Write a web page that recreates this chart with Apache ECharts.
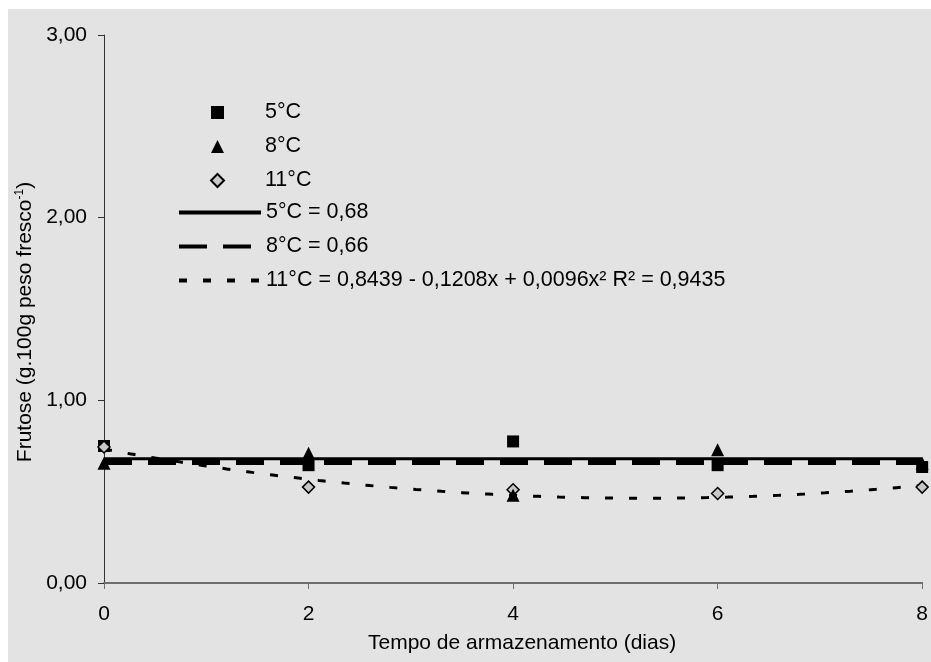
<!DOCTYPE html>
<html>
<head>
<meta charset="utf-8">
<script src="https://cdn.jsdelivr.net/npm/echarts@6/dist/echarts.min.js"></script>
<style>
  html, body { margin: 0; padding: 0; background: #ffffff; }
  #chart { width: 931px; height: 662px; }
</style>
</head>
<body>
<div id="chart"></div>
<script>
// Storage time (days) and fructose content (g.100g fresh weight^-1)
const days = [0, 2, 4, 6, 8];
const frut5 = [0.75, 0.645, 0.775, 0.645, 0.635];
const frut8 = [0.655, 0.71, 0.48, 0.73, 0.655];
const frut11 = [0.745, 0.525, 0.51, 0.49, 0.525];

// Fitted models
const mean5 = 0.68;
const mean8 = 0.66;
const fit11 = [0.8439, -0.1208, 0.0096]; // c0 + c1*x + c2*x^2

const yTicks = [0, 1, 2, 3];

const names = {
  s5: '5°C', s8: '8°C', s11: '11°C',
  l5: '5°C = 0,68',
  l8: '8°C = 0,66',
  l11: '11°C = 0,8439 - 0,1208x + 0,0096x² R² = 0,9435'
};

const FONT = 'Liberation Sans, Arial, sans-serif';

function pairs(xs, ys) { return xs.map((x, i) => [x, ys[i]]); }

// Excel-style trendline: x is the 1-based position of the point (day 0 -> x = 1)
function quadCurve(coef, xs) {
  const out = [];
  const x0 = xs[0], x1 = xs[xs.length - 1];
  for (let d = x0; d <= x1 + 1e-9; d += 0.05) {
    const x = d + 1;
    out.push([d, coef[0] + coef[1] * x + coef[2] * x * x]);
  }
  return out;
}

const chart = echarts.init(document.getElementById('chart'), null, { renderer: 'canvas' });

const option = {
  animation: false,
  backgroundColor: '#ffffff',
  textStyle: { fontFamily: FONT },
  graphic: [{
    type: 'rect', z: -10, silent: true,
    shape: { x: 8, y: 9, width: 923, height: 653 },
    style: { fill: '#e3e3e3' }
  }],
  grid: { left: 104, right: 3, top: 35, bottom: 79, containLabel: false },
  legend: [{
    data: [names.s5, names.s8, names.s11],
    orient: 'vertical',
    left: 210, top: 101.5, padding: 0,
    itemWidth: 13, itemHeight: 13, itemGap: 12,
    textStyle: { fontFamily: FONT, fontSize: 21.5, color: '#000', lineHeight: 21, padding: [0, 0, 0, 36] },
    selectedMode: false
  }, {
    data: [names.l5, names.l8, names.l11],
    orient: 'vertical',
    left: 177, top: 201.5, padding: 0,
    itemWidth: 82, itemHeight: 10, itemGap: 12,
    itemStyle: { opacity: 0 },
    lineStyle: { width: 4 },
    textStyle: { fontFamily: FONT, fontSize: 21.5, color: '#000', lineHeight: 21 },
    selectedMode: false
  }],
  xAxis: {
    type: 'value', min: 0, max: 8, interval: 2,
    name: 'Tempo de armazenamento (dias)',
    nameLocation: 'middle', nameGap: 50,
    nameTextStyle: { fontFamily: FONT, fontSize: 21, color: '#000', padding: [0, 0, 0, 18] },
    axisLine: { lineStyle: { color: '#6e6e6e', width: 2 } },
    axisTick: { show: true, length: 6, lineStyle: { color: '#6e6e6e', width: 1 } },
    axisLabel: { fontFamily: FONT, fontSize: 21, color: '#000', margin: 21,
      formatter: v => String(v) },
    splitLine: { show: false }
  },
  yAxis: {
    type: 'value', min: yTicks[0], max: yTicks[yTicks.length - 1], interval: 1,
    name: '{a|Frutose (g.100g peso fresco}{s|-1}{a|)}',
    nameLocation: 'middle', nameGap: 58,
    nameTextStyle: {
      padding: [0, 26, 0, 0],
      rich: {
        a: { fontFamily: FONT, fontSize: 21, color: '#000' },
        s: { fontFamily: FONT, fontSize: 12, color: '#000', verticalAlign: 'top', padding: [0, 0, 10, 0] }
      }
    },
    axisLine: { show: true, lineStyle: { color: '#333333', width: 1 } },
    axisTick: { show: true, length: 6, lineStyle: { color: '#333333', width: 1 } },
    axisLabel: { fontFamily: FONT, fontSize: 21, color: '#000', margin: 17,
      formatter: v => v.toFixed(2).replace('.', ',') },
    splitLine: { show: false }
  },
  series: [
    {
      name: names.l5, type: 'line', symbol: 'none', silent: true,
      data: [[days[0], mean5], [days[days.length - 1], mean5]],
      lineStyle: { color: '#000', width: 3, type: 'solid' },
      itemStyle: { color: '#000' }, z: 2
    },
    {
      name: names.l8, type: 'line', symbol: 'none', silent: true,
      data: [[days[0], mean8], [days[days.length - 1], mean8]],
      lineStyle: { color: '#000', width: 5, type: [28, 16], cap: 'butt' },
      itemStyle: { color: '#000' }, z: 2
    },
    {
      name: names.l11, type: 'line', symbol: 'none', silent: true,
      data: quadCurve(fit11, days),
      lineStyle: { color: '#000', width: 3, type: [8, 16], cap: 'butt' },
      itemStyle: { color: '#000' }, z: 2
    },
    {
      name: names.s5, type: 'scatter', symbol: 'rect', symbolSize: 12,
      data: pairs(days, frut5),
      itemStyle: { color: '#000', opacity: 1 }, z: 3
    },
    {
      name: names.s11, type: 'scatter', symbol: 'diamond', symbolSize: 12,
      data: pairs(days, frut11),
      itemStyle: { color: '#c8c8c8', borderColor: '#000', borderWidth: 1.5, opacity: 1 }, z: 3
    },
    {
      name: names.s8, type: 'scatter', symbol: 'triangle', symbolSize: 13,
      data: pairs(days, frut8),
      itemStyle: { color: '#000', opacity: 1 }, z: 3
    }
  ]
};

chart.setOption(option);
</script>
</body>
</html>
